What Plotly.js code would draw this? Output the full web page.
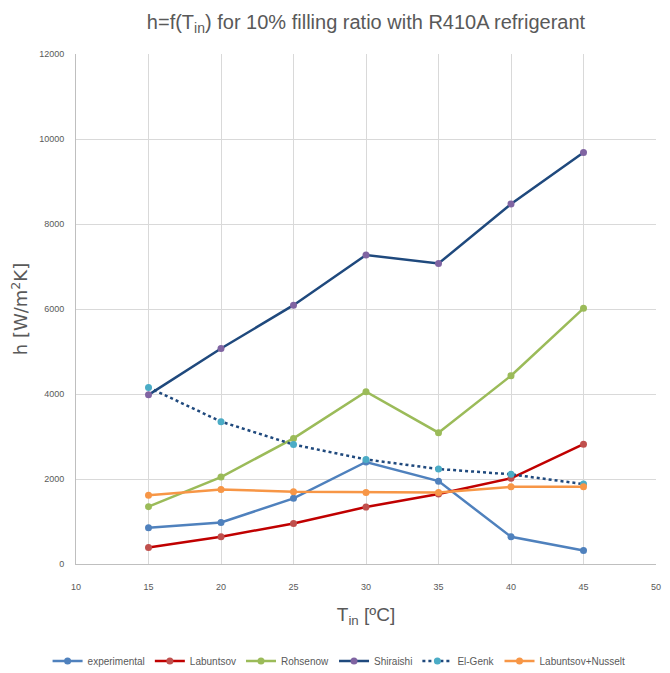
<!DOCTYPE html>
<html>
<head>
<meta charset="utf-8">
<script src="https://cdn.plot.ly/plotly-3.0.1.min.js"></script>
<style>html,body{margin:0;padding:0;background:#fff;}#chart{width:670px;height:673px;}</style>
</head>
<body>
<div id="chart"></div>
<script>
// Inlet temperature [°C]
const tIn = [15, 20, 25, 30, 35, 40, 45];

// Heat transfer coefficient h [W/m²K] per correlation
const experimental = [855, 975, 1545, 2400, 1950, 640, 320];
const labuntsov = [390, 640, 955, 1340, 1645, 2015, 2820];
const rohsenow = [1350, 2045, 2955, 4055, 3090, 4430, 6015];
const shiraishi = [3980, 5070, 6090, 7270, 7070, 8470, 9680];
const elGenk = [4155, 3350, 2810, 2460, 2235, 2110, 1880];
const labuntsovNusselt = [1620, 1755, 1700, 1685, 1680, 1815, 1815];

const font = '"Liberation Sans", Arial, sans-serif';
const grey = '#595959';

function series(name, y, lineColor, markerColor, dash) {
  return {
    x: tIn, y: y, name: name, type: 'scatter', mode: 'lines+markers',
    line: {color: lineColor, width: 2.5, dash: dash || 'solid'},
    marker: {color: markerColor, size: 7, symbol: 'circle'}
  };
}

const data = [
  series('experimental', experimental, '#4F81BD', '#4F81BD'),
  series('Labuntsov', labuntsov, '#C00000', '#C0504D'),
  series('Rohsenow', rohsenow, '#9BBB59', '#9BBB59'),
  series('Shiraishi', shiraishi, '#1F497D', '#8064A2'),
  series('El-Genk', elGenk, '#1F497D', '#4BACC6', 'dot'),
  series('Labuntsov+Nusselt', labuntsovNusselt, '#F79646', '#F79646')
];

const layout = {
  width: 670, height: 673,
  margin: {l: 76, r: 14, t: 54, b: 109, autoexpand: false},
  paper_bgcolor: '#fff', plot_bgcolor: '#fff',
  font: {family: font, color: grey, size: 10},
  title: {
    text: 'h=f(T<sub>in</sub>) for 10% filling ratio with R410A refrigerant',
    font: {family: font, size: 20, color: grey},
    xref: 'paper', x: 0.5, xanchor: 'center', y: 0.968, yanchor: 'middle'
  },
  xaxis: {
    range: [10, 50], dtick: 5, tick0: 10, automargin: false,
    showgrid: true, gridcolor: '#D9D9D9', gridwidth: 1,
    showline: true, linecolor: '#BFBFBF', linewidth: 1,
    zeroline: false, ticks: '', ticklen: 0, ticklabelstandoff: 14,
    tickfont: {family: font, size: 9, color: grey},
    title: {text: 'T<sub>in</sub> [ºC]', font: {family: font, size: 19, color: grey}, standoff: 16}
  },
  yaxis: {
    range: [0, 12000], dtick: 2000, tick0: 0, automargin: false,
    showgrid: true, gridcolor: '#D9D9D9', gridwidth: 1,
    showline: true, linecolor: '#BFBFBF', linewidth: 1,
    zeroline: false, ticks: '', ticklen: 0, ticklabelstandoff: 9,
    tickformat: 'd',
    tickfont: {family: font, size: 9, color: grey},
    title: {text: 'h [W/m<sup>2</sup>K]', font: {family: '"DejaVu Sans", sans-serif', size: 18, color: grey}, standoff: 6}
  },
  showlegend: true,
  legend: {
    orientation: 'h', x: -0.049, xanchor: 'left', y: -0.19, yanchor: 'middle',
    font: {family: font, size: 10, color: grey},
    itemwidth: 30, tracegroupgap: 0
  }
};

Plotly.newPlot('chart', data, layout, {displayModeBar: false, staticPlot: true});
</script>
</body>
</html>
